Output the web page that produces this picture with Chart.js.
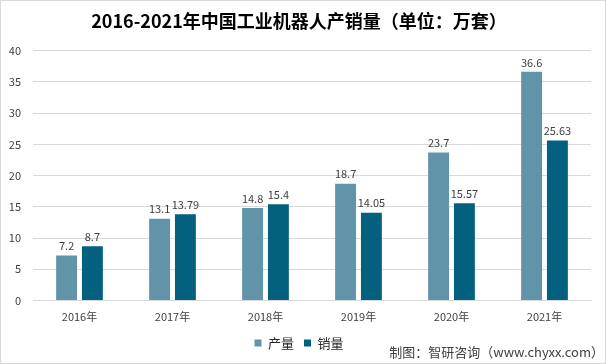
<!DOCTYPE html>
<html>
<head>
<meta charset="utf-8">
<script src="https://cdn.jsdelivr.net/npm/chart.js@4/dist/chart.umd.min.js"></script>
<style>
  html, body { margin: 0; padding: 0; background: #fff; }
  #wrap { position: relative; width: 606px; height: 364px; box-sizing: border-box; border: 1px solid #d9d9d9; }
</style>
</head>
<body>
<div id="wrap"><canvas id="c" width="604" height="362"></canvas></div>
<script>
var years = ["2016年", "2017年", "2018年", "2019年", "2020年", "2021年"];
var output = [7.2, 13.1, 14.8, 18.7, 23.7, 36.6];
var sales = [8.7, 13.79, 15.4, 14.05, 15.57, 25.63];
var seriesNames = ["产量", "销量"];
var yTicks = [0, 5, 10, 15, 20, 25, 30, 35, 40];

var fontFamily = "'Noto Sans CJK SC', 'Noto Sans', sans-serif";

// numbers above each bar
var barLabels = {
  id: "barLabels",
  afterDatasetsDraw: function(chart) {
    var ctx = chart.ctx;
    ctx.save();
    ctx.font = "11px " + fontFamily;
    ctx.fillStyle = "#404040";
    ctx.textAlign = "center";
    ctx.textBaseline = "bottom";
    chart.data.datasets.forEach(function(ds, i) {
      chart.getDatasetMeta(i).data.forEach(function(bar, j) {
        ctx.fillText(String(ds.data[j]), bar.x, bar.y - 4);
      });
    });
    ctx.restore();
  }
};

// source note bottom right
var sourceNote = {
  id: "sourceNote",
  afterDraw: function(chart) {
    var ctx = chart.ctx;
    ctx.save();
    ctx.font = "13px " + fontFamily;
    ctx.fillStyle = "#404040";
    ctx.textAlign = "right";
    ctx.textBaseline = "middle";
    ctx.fillText("制图：智研咨询（www.chyxx.com）", chart.width - 1, 351);
    ctx.restore();
  }
};

new Chart(document.getElementById("c"), {
  type: "bar",
  data: {
    labels: years,
    datasets: [{
      label: seriesNames[0],
      data: output,
      backgroundColor: "#6193a9",
      categoryPercentage: 0.555,
      barPercentage: 0.81
    }, {
      label: seriesNames[1],
      data: sales,
      backgroundColor: "#03617f",
      categoryPercentage: 0.555,
      barPercentage: 0.81
    }]
  },
  options: {
    responsive: false,
    animation: false,
    layout: { padding: { left: 6, right: 14, top: 0, bottom: 3.5 } },
    plugins: {
      title: {
        display: true,
        text: "2016-2021年中国工业机器人产销量（单位：万套）",
        color: "#000",
        font: { family: fontFamily, size: 18, weight: "bold" },
        padding: { top: 9, bottom: 19 }
      },
      legend: {
        position: "bottom",
        labels: {
          boxWidth: 7,
          boxHeight: 7,
          padding: 10,
          color: "#262626",
          font: { family: fontFamily, size: 13 }
        }
      },
      tooltip: { enabled: false }
    },
    scales: {
      x: {
        afterFit: function(axis) { axis.height = 26; },
        grid: { display: false, drawTicks: false },
        border: { color: "#d9d9d9" },
        ticks: {
          color: "#404040",
          font: { family: fontFamily, size: 11 },
          padding: 10,
          maxRotation: 0,
          minRotation: 0,
          autoSkip: false
        }
      },
      y: {
        min: 0,
        max: 40,
        afterBuildTicks: function(axis) {
          axis.ticks = yTicks.map(function(v) { return { value: v }; });
        },
        afterFit: function(axis) { axis.width = 26; },
        grid: { color: "#d9d9d9", drawTicks: false },
        border: { display: false },
        ticks: { color: "#404040", font: { family: fontFamily, size: 11 }, padding: 12 }
      }
    }
  },
  plugins: [barLabels, sourceNote]
});
</script>
</body>
</html>
